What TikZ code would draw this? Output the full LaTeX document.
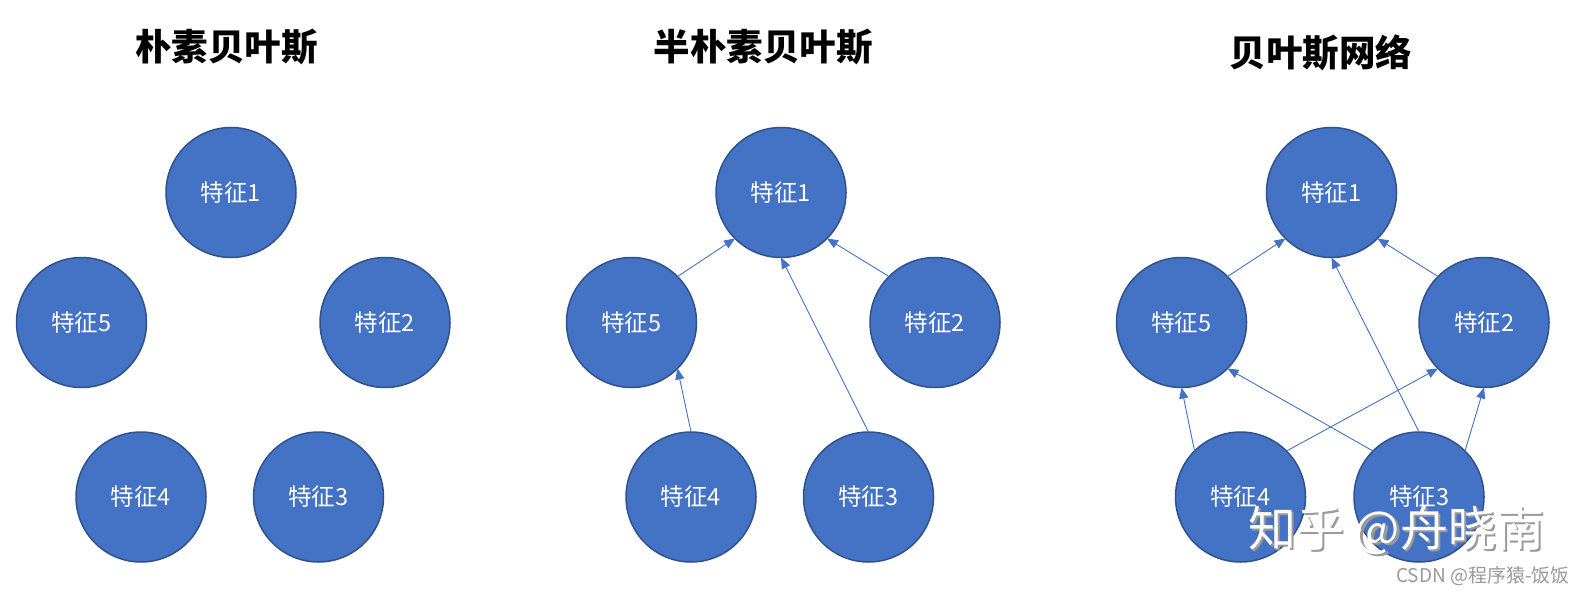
\documentclass[tikz,border=0pt]{standalone}
\usepackage{fontspec}
\setmainfont{Noto Sans CJK SC}
\usetikzlibrary{arrows.meta}
\definecolor{fillblue}{HTML}{4472C4}
\definecolor{edgeblue}{HTML}{2F528F}
\definecolor{wmgray}{HTML}{9A9A9A}
\begin{document}
\begin{tikzpicture}[x=1pt,y=-1pt,
 feat/.style={circle,fill=fillblue,draw=edgeblue,line width=1.5pt,minimum size=130pt,inner sep=0pt,outer sep=0pt,text=white,font=\fontsize{23.5}{23.5}\selectfont},
 ttl/.style={font=\fontsize{36.5}{36.5}\selectfont\bfseries,inner sep=0pt},
 arr/.style={draw=fillblue,line width=0.9pt,-{Triangle[length=11pt,width=9pt]}},
 wm/.style={font=\fontsize{48}{48}\selectfont,inner sep=0pt}]
\useasboundingbox (0,0) rectangle (1586,596);
\fill[white] (0,0) rectangle (1586,596);
% titles
\node[ttl] (t1) at (226.5,46.5) {朴素贝叶斯};
\node[ttl] (t2) at (763,47) {半朴素贝叶斯};
\node[ttl] (t3) at (1321,52.5) {贝叶斯网络};
% panel 1
\node[feat] (a1) at (231,192.5) {特征1};
\node[feat] (a5) at (81.5,322.5) {特征5};
\node[feat] (a2) at (385,322.5) {特征2};
\node[feat] (a4) at (141,497) {特征4};
\node[feat] (a3) at (318.5,497) {特征3};
% panel 2
\node[feat] (b1) at (781,192.5) {特征1};
\node[feat] (b5) at (631.5,322.5) {特征5};
\node[feat] (b2) at (935,322.5) {特征2};
\node[feat] (b4) at (691,497) {特征4};
\node[feat] (b3) at (868.5,497) {特征3};
\draw[arr] (b5.45) -- (b1.225);
\draw[arr] (b2.135) -- (b1.315);
\draw[arr] (b4.north) -- (b5.315);
\draw[arr] (b3.north) -- (b1.south);
% panel 3
\node[feat] (c1) at (1331.5,192.5) {特征1};
\node[feat] (c5) at (1181.5,322.5) {特征5};
\node[feat] (c2) at (1484,322.5) {特征2};
\node[feat] (c4) at (1240.5,497) {特征4};
\node[feat] (c3) at (1419,497) {特征3};
\draw[arr] (c5.45) -- (c1.225);
\draw[arr] (c2.135) -- (c1.315);
\draw[arr] (c3.north) -- (c1.south);
\draw[arr] (c4.135) -- (c5.south);
\draw[arr] (c4.45) -- (c2.225);
\draw[arr] (c3.135) -- (c5.315);
\draw[arr] (c3.45) -- (c2.south);
% watermarks
\node[wm,text=wmgray,anchor=west] (w0) at (1250.5,532.5) {知乎 @舟晓南};
\node[wm,text=white,anchor=west] (w1) at (1248,530) {知乎 @舟晓南};
\node[font=\fontsize{19}{19}\selectfont,text=wmgray,anchor=east,inner sep=0pt] (w2) at (1570,576) {CSDN @程序猿-饭饭};
\end{tikzpicture}
\end{document}
